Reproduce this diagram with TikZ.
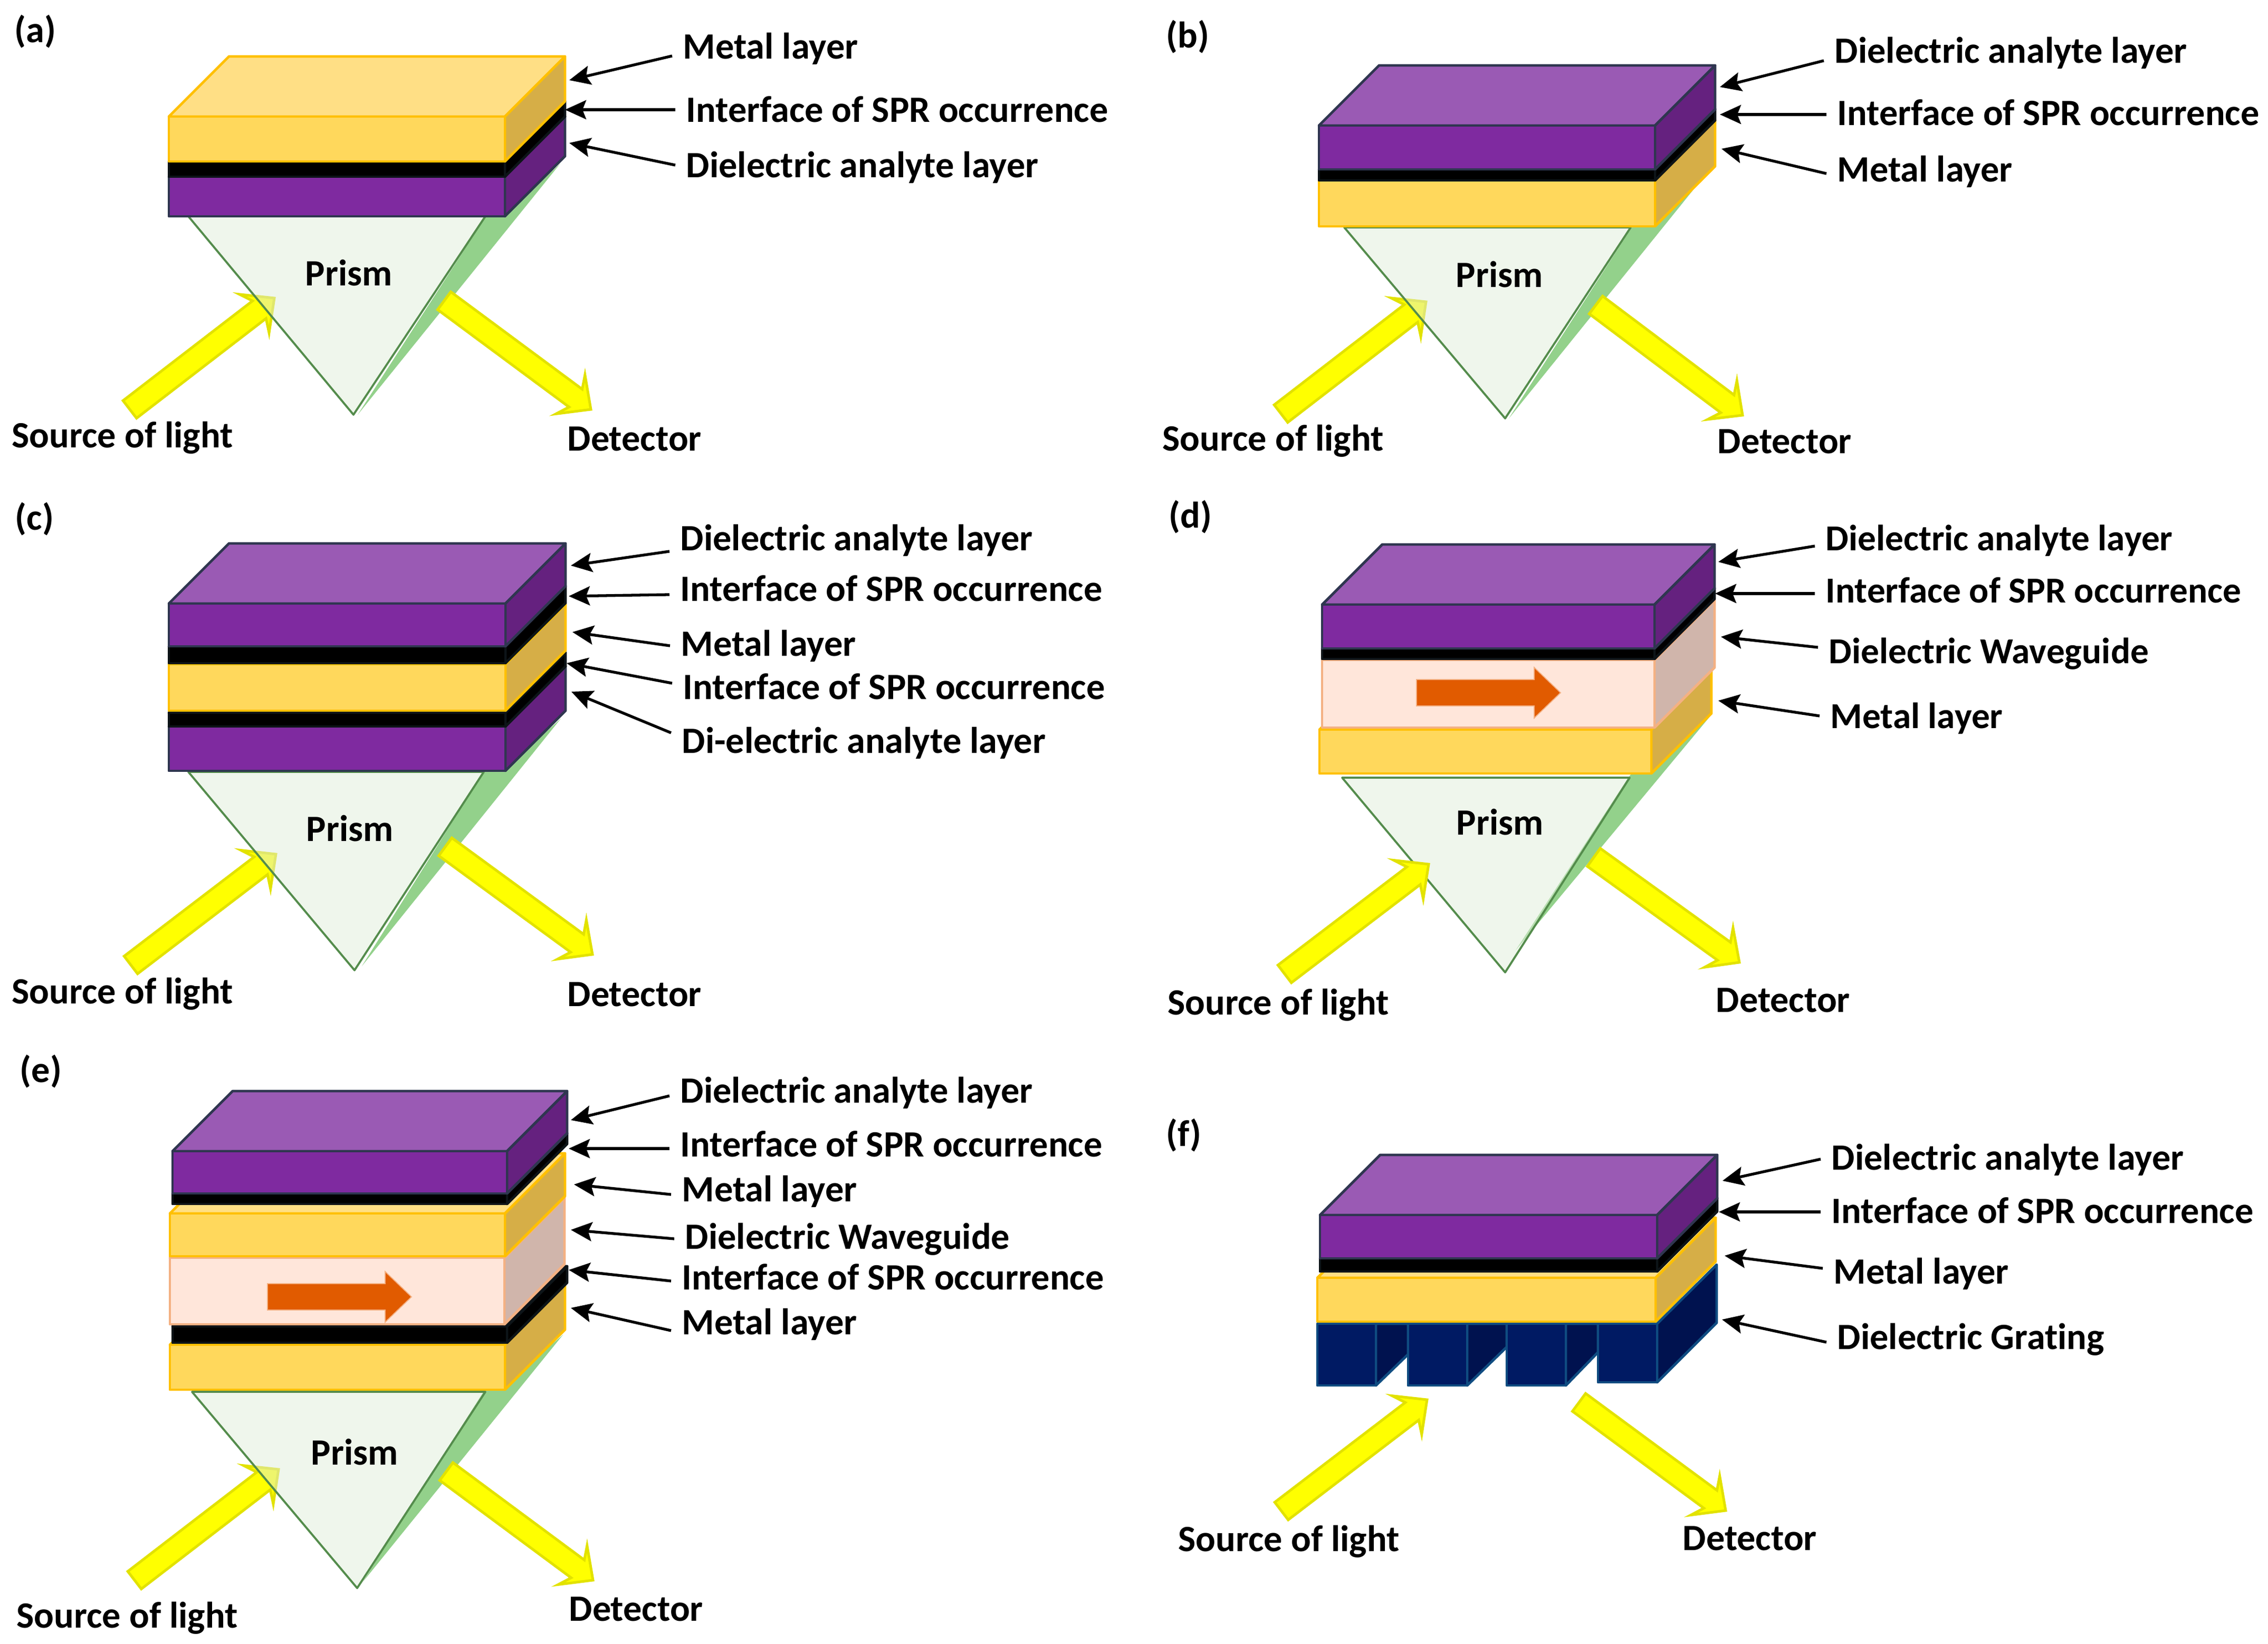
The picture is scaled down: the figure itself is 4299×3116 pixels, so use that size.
\documentclass[tikz,border=0pt]{standalone}
\usepackage{fontspec}
\setmainfont{Carlito}[Ligatures=NoCommon]
\usetikzlibrary{arrows.meta,calc}

\definecolor{AnaF}{HTML}{7F2AA0}
\definecolor{AnaS}{HTML}{65217F}
\definecolor{AnaT}{HTML}{9A5AB4}
\definecolor{AnaL}{HTML}{2F3650}
\definecolor{MetF}{HTML}{FFD85C}
\definecolor{MetS}{HTML}{D6AE47}
\definecolor{MetT}{HTML}{FFDF85}
\definecolor{MetL}{HTML}{FFC000}
\definecolor{GuiF}{HTML}{FFE6DA}
\definecolor{GuiS}{HTML}{D0B5AB}
\definecolor{GuiT}{HTML}{FFE6DA}
\definecolor{GuiL}{HTML}{F4B183}
\definecolor{IntF}{HTML}{000000}
\definecolor{IntS}{HTML}{000000}
\definecolor{IntT}{HTML}{1A1A1A}
\definecolor{IntL}{HTML}{0D1418}
\definecolor{GraF}{HTML}{001A63}
\definecolor{GraS}{HTML}{00124F}
\definecolor{GraL}{HTML}{0F4C81}
\definecolor{PriF}{HTML}{DFEDD9}
\definecolor{PriL}{HTML}{548C4C}
\definecolor{PriS}{HTML}{93D18B}
\definecolor{BeaF}{HTML}{FFFF00}
\definecolor{BeaL}{HTML}{E2E200}
\definecolor{FloF}{HTML}{E15B00}

\tikzset{
  face/.style={line width=1.4pt,line join=round},
  prismbody/.style={draw=PriL,line width=1.1pt,line join=round,fill=PriF,fill opacity=0.5},
  prismshadow/.style={fill=PriS},
  beam/.style={draw=BeaL,fill=BeaF,line width=1.4pt,line join=miter},
  flow/.style={draw=GuiL,fill=FloF,line width=0.5pt},
  lab/.style={anchor=west,inner xsep=2mm,inner ysep=0pt,xshift=-2mm,text height=17.2pt,text depth=4pt,
    font=\fontsize{20}{24}\selectfont\bfseries},
  labd/.style={lab,font=\fontsize{19.7}{24}\selectfont\bfseries},
  leader/.style={-{Stealth[length=4mm,width=3.6mm,inset=0.7mm]},line width=1.5pt,black},
}

\newcommand{\Slab}[5]{
  \draw[face,draw=#1L,fill=#1T] (#2,#4) -- ++(114,-114) -- (#3+114,#4-114) -- (#3,#4) -- cycle;
  \draw[face,draw=#1L,fill=#1S] (#3,#4) -- ++(114,-114) -- (#3+114,#5-114) -- (#3,#5) -- cycle;
  \draw[face,draw=#1L,fill=#1F] (#2,#4) rectangle (#3,#5);
}
\newcommand{\Beam}[2]{
  \coordinate (bt) at (#1);
  \coordinate (bh) at (#2);
  \coordinate (bn) at ($(bh)!0.36cm!(bt)$);
  \coordinate (bb) at ($(bh)!0.48cm!(bt)$);
  \draw[beam] ($(bt)!0.21cm!90:(bh)$) -- ($(bn)!0.21cm!90:(bh)$) -- ($(bb)!0.46cm!90:(bh)$) -- (bh)
    -- ($(bb)!0.46cm!-90:(bh)$) -- ($(bn)!0.21cm!-90:(bh)$) -- ($(bt)!0.21cm!-90:(bh)$) -- cycle;
}
\newcommand{\Flow}[2]{
  \draw[flow] (#1,#2-25) -- (#1+223,#2-25) -- (#1+223,#2-48) -- (#1+273,#2) -- (#1+223,#2+48)
    -- (#1+223,#2+25) -- (#1,#2+25) -- cycle;
}
\newcommand{\Lead}[4]{
  \coordinate (#1t) at (#3,#4);
  \draw[leader] ([yshift=#2*-0.01cm]#1.west) -- (#1t);
}

\begin{document}
\begin{tikzpicture}[x=0.01cm,y=-0.01cm]
  \useasboundingbox (0,0) rectangle (4299,3116);

  % (a)
  \Beam{246,776}{520,565}
  \fill[prismshadow] (920,412) -- (957,408) -- (1062,310) -- (678,786) -- cycle;
  \draw[prismbody] (357,410) -- (920,410) -- (670,786) -- cycle;
  \Beam{842,570}{1120,776}
  \Slab{Ana}{320}{957}{335}{410}
  \Slab{Int}{320}{957}{306}{335}
  \Slab{Met}{320}{957}{221}{306}
  \node[lab] (ta) at (27,57) {(a)};
  \node[lab] (pa) at (578,518) {Prism};
  \node[lab] (sa) at (22,825) {Source of light};
  \node[lab] (da) at (1075,831) {Detector};
  \node[lab] (a1) at (1294,88) {Metal layer};
  \node[lab] (a2) at (1300,208) {Interface of SPR occurrence};
  \node[lab] (a3) at (1300,313) {Dielectric analyte layer};
  \Lead{a1}{18}{1079}{152}
  \Lead{a2}{0}{1071}{208}
  \Lead{a3}{0}{1079}{271}

  % (b)
  \Beam{2428,784}{2703,572}
  \fill[prismshadow] (3095,428) -- (3137,417) -- (3240,322) -- (2860,793) -- cycle;
  \draw[prismbody] (2548,431) -- (3091,431) -- (2853,793) -- cycle;
  \Beam{3025,578}{3303,787}
  \Slab{Met}{2500}{3137}{342}{429}
  \Slab{Int}{2500}{3137}{321}{342}
  \Slab{Ana}{2500}{3137}{238}{321}
  \node[lab] (tb) at (2210,67) {(b)};
  \node[lab] (pb) at (2759,521) {Prism};
  \node[lab] (sb) at (2203,831) {Source of light};
  \node[lab] (db) at (3255,836) {Detector};
  \node[lab] (b1) at (3477,96) {Dielectric analyte layer};
  \node[lab] (b2) at (3482,214) {Interface of SPR occurrence};
  \node[lab] (b3) at (3482,321) {Metal layer};
  \Lead{b1}{19}{3260}{165}
  \Lead{b2}{3}{3260}{217}
  \Lead{b3}{8}{3263}{282}

  % (c)
  \Beam{248,1829}{523,1619}
  \fill[prismshadow] (917,1463) -- (958,1457) -- (1063,1362) -- (686,1831) -- cycle;
  \draw[prismbody] (357,1463) -- (917,1463) -- (672,1839) -- cycle;
  \Beam{844,1605}{1123,1809}
  \Slab{Ana}{320}{958}{1377}{1461}
  \Slab{Int}{320}{958}{1351}{1377}
  \Slab{Met}{320}{958}{1259}{1347}
  \Slab{Int}{320}{958}{1225}{1257}
  \Slab{Ana}{320}{958}{1144}{1225}
  \node[lab] (tc) at (28,981) {(c)};
  \node[lab] (pc) at (580,1571) {Prism};
  \node[lab] (sc) at (22,1879) {Source of light};
  \node[lab] (dc) at (1075,1884) {Detector};
  \node[lab] (c1) at (1289,1020) {Dielectric analyte layer};
  \node[lab] (c2) at (1289,1116) {Interface of SPR occurrence};
  \node[lab] (c3) at (1290,1220) {Metal layer};
  \node[lab] (c4) at (1294,1302) {Interface of SPR occurrence};
  \node[lab] (c5) at (1292,1404) {Di-electric analyte layer};
  \Lead{c1}{25}{1082}{1072}
  \Lead{c2}{11}{1078}{1130}
  \Lead{c3}{4}{1085}{1198}
  \Lead{c4}{-7}{1074}{1257}
  \Lead{c5}{-15}{1083}{1311}

  % (d)
  \fill[prismshadow] (3085,1476) -- (3100,1456) -- (3133,1452) -- (3242,1357) -- (2873,1801) -- cycle;
  \draw[prismbody] (2544,1474) -- (3089,1474) -- (2853,1843) -- cycle;
  \Beam{2435,1846}{2708,1638}
  \Beam{3021,1625}{3297,1824}
  \Slab{Met}{2501}{3130}{1383}{1466}
  \Slab{Gui}{2506}{3136}{1251}{1379}
  \Flow{2685}{1313}
  \Slab{Int}{2506}{3136}{1229}{1249}
  \Slab{Ana}{2506}{3136}{1146}{1229}
  \node[lab] (td) at (2215,977) {(d)};
  \node[lab] (pd) at (2760,1559) {Prism};
  \node[lab] (sd) at (2213,1900) {Source of light};
  \node[lab] (dd) at (3252,1895) {Detector};
  \node[labd] (d1) at (3460,1020) {Dielectric analyte layer};
  \node[labd] (d2) at (3460,1119) {Interface of SPR occurrence};
  \node[labd] (d3) at (3466,1234) {Dielectric Waveguide};
  \node[labd] (d4) at (3469,1357) {Metal layer};
  \Lead{d1}{15}{3257}{1065}
  \Lead{d2}{6}{3251}{1125}
  \Lead{d3}{-7}{3262}{1207}
  \Lead{d4}{0}{3257}{1328}

  % (e)
  \Beam{255,2995}{528,2785}
  \fill[prismshadow] (915,2640) -- (926,2628) -- (957,2625) -- (1067,2530) -- (688,2998) -- cycle;
  \draw[prismbody] (364,2638) -- (920,2638) -- (677,3010) -- cycle;
  \Beam{846,2789}{1124,2995}
  \Slab{Met}{322}{957}{2549}{2634}
  \Slab{Int}{327}{961}{2514}{2545}
  \Slab{Gui}{322}{956}{2384}{2510}
  \Flow{507}{2458}
  \Slab{Met}{322}{957}{2300}{2381}
  \Slab{Int}{327}{961}{2262}{2282}
  \Slab{Ana}{327}{961}{2182}{2262}
  \node[lab] (te) at (37,2028) {(e)};
  \node[lab] (pe) at (589,2753) {Prism};
  \node[lab] (se) at (31,3062) {Source of light};
  \node[lab] (de) at (1078,3049) {Detector};
  \node[lab] (e1) at (1289,2067) {Dielectric analyte layer};
  \node[lab] (e2) at (1289,2169) {Interface of SPR occurrence};
  \node[lab] (e3) at (1292,2254) {Metal layer};
  \node[lab] (e4) at (1298,2344) {Dielectric Waveguide};
  \node[lab] (e5) at (1292,2421) {Interface of SPR occurrence};
  \node[lab] (e6) at (1292,2506) {Metal layer};
  \Lead{e1}{10}{1082}{2123}
  \Lead{e2}{8}{1078}{2177}
  \Lead{e3}{10}{1088}{2245}
  \Lead{e4}{4}{1082}{2331}
  \Lead{e5}{7}{1078}{2407}
  \Lead{e6}{16}{1082}{2479}

  % (f)
  \Beam{2429,2864}{2705,2653}
  \Beam{2993,2658}{3271,2863}
  \foreach \xa/\xb/\yb in {2608/2669/2567,2781/2856/2553,2968/3029/2563}
    \draw[face,draw=GraL,fill=GraS] (\xa,2509) -- (\xb,2509) -- (\xb,\yb) -- (\xa,2626) -- cycle;
  \draw[face,draw=GraL,fill=GraS] (3141,2509) -- (3254,2397) -- (3254,2507) -- (3141,2620) -- cycle;
  \foreach \xa/\xb/\yb in {2497/2608/2626,2669/2781/2626,2856/2968/2626,3029/3141/2620}
    \draw[face,draw=GraL,fill=GraF] (\xa,2509) rectangle (\xb,\yb);
  \Slab{Met}{2497}{3138}{2422}{2505}
  \Slab{Int}{2502}{3141}{2385}{2410}
  \Slab{Ana}{2502}{3141}{2303}{2385}
  \node[lab] (tf) at (2210,2149) {(f)};
  \node[lab] (sf) at (2233,2917) {Source of light};
  \node[lab] (df) at (3189,2915) {Detector};
  \node[lab] (f1) at (3471,2194) {Dielectric analyte layer};
  \node[lab] (f2) at (3471,2295) {Interface of SPR occurrence};
  \node[lab] (f3) at (3475,2410) {Metal layer};
  \node[lab] (f4) at (3482,2534) {Dielectric Grating};
  \Lead{f1}{3}{3265}{2238}
  \Lead{f2}{2}{3258}{2297}
  \Lead{f3}{-6}{3269}{2380}
  \Lead{f4}{10}{3264}{2501}
\end{tikzpicture}
\end{document}
